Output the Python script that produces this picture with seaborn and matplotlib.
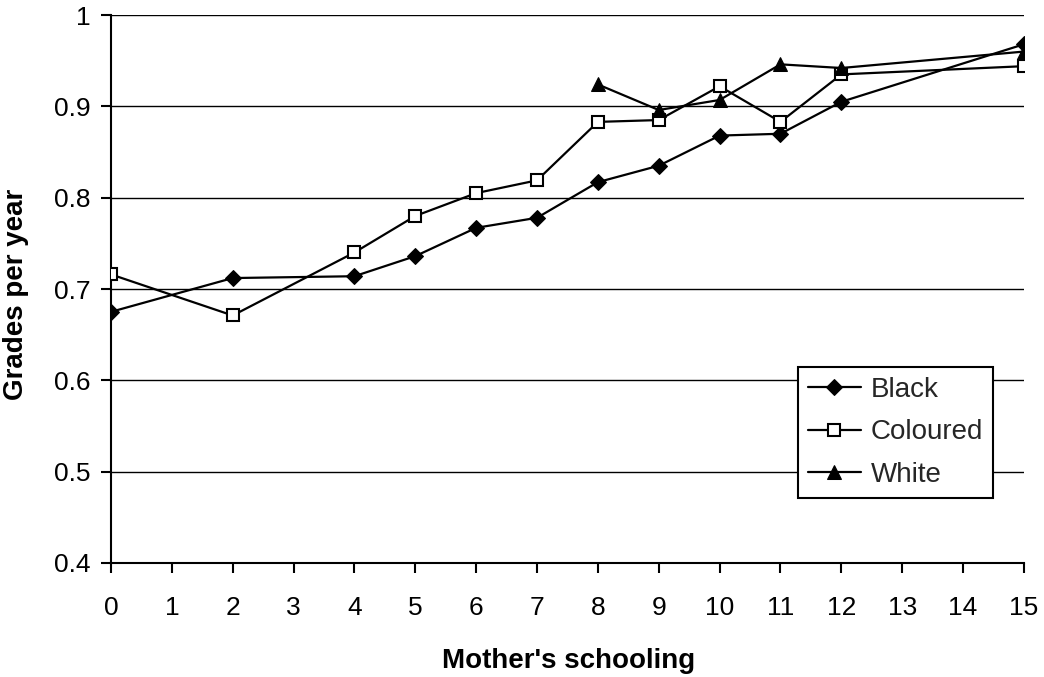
import matplotlib
matplotlib.use("Agg")
import matplotlib.pyplot as plt
import seaborn as sns
import pandas as pd

# Mother's years of schooling and grade progression per year, by population group
schooling_black = [0, 2, 4, 5, 6, 7, 8, 9, 10, 11, 12, 15]
grades_black = [0.675, 0.712, 0.714, 0.736, 0.767, 0.778, 0.817, 0.835, 0.868, 0.870, 0.905, 0.968]

schooling_coloured = [0, 2, 4, 5, 6, 7, 8, 9, 10, 11, 12, 15]
grades_coloured = [0.716, 0.671, 0.740, 0.780, 0.805, 0.819, 0.883, 0.885, 0.922, 0.883, 0.935, 0.944]

schooling_white = [8, 9, 10, 11, 12, 15]
grades_white = [0.924, 0.896, 0.907, 0.946, 0.942, 0.960]

x_ticks = list(range(0, 16))
y_ticks = [0.4, 0.5, 0.6, 0.7, 0.8, 0.9, 1.0]
y_tick_labels = ["0.4", "0.5", "0.6", "0.7", "0.8", "0.9", "1"]

sns.set_theme(style="white")
plt.rcParams["font.family"] = ["Liberation Sans", "DejaVu Sans"]

fig = plt.figure(figsize=(10.44, 6.77), dpi=100)
ax = fig.add_axes([0.1063, 0.1684, 0.8745, 0.8094])

# horizontal gridlines
for yv in y_ticks[1:]:
    ax.axhline(yv, color="black", linewidth=1.0, zorder=1)

series = [
    ("Black", schooling_black, grades_black,
     dict(marker="D", markersize=8.5, markerfacecolor="black")),
    ("Coloured", schooling_coloured, grades_coloured,
     dict(marker="s", markersize=8, markerfacecolor="white", markeredgewidth=1.5)),
    ("White", schooling_white, grades_white,
     dict(marker="^", markersize=10.5, markerfacecolor="black")),
]
for name, xs, ys, style in series:
    df = pd.DataFrame({"schooling": xs, "grades": ys})
    sns.lineplot(data=df, x="schooling", y="grades", ax=ax, color="black",
                 linewidth=1.6, markeredgecolor="black", label=name, zorder=3, **style)

ax.set_xlim(0, 15)
ax.set_ylim(0.4, 1.0)
ax.set_xticks(x_ticks)
ax.set_xticklabels([str(t) for t in x_ticks], fontsize=19)
ax.set_yticks(y_ticks)
ax.set_yticklabels(y_tick_labels, fontsize=19)
ax.tick_params(axis="both", direction="out", length=7, width=1.5, color="black",
               bottom=True, left=True, labelcolor="black")
ax.tick_params(axis="x", pad=17)
ax.tick_params(axis="y", pad=8)

for side in ["top", "right"]:
    ax.spines[side].set_visible(False)
for side in ["left", "bottom"]:
    ax.spines[side].set_color("black")
    ax.spines[side].set_linewidth(1.5)

ax.set_xlabel("Mother's schooling", fontsize=20, fontweight="bold", color="black")
ax.set_ylabel("Grades per year", fontsize=20, fontweight="bold", color="black")
ax.xaxis.set_label_coords(0.501, -0.156)
ax.yaxis.set_label_coords(-0.090, 0.491)

leg = ax.legend(loc="upper right", bbox_to_anchor=(0.966, 0.358), fontsize=20,
                frameon=True, fancybox=False, shadow=False, framealpha=1,
                edgecolor="black", handlelength=1.9, handletextpad=0.36,
                borderpad=0.36, labelspacing=0.6, borderaxespad=0)
leg.get_frame().set_linewidth(1.5)
leg.set_zorder(5)

fig.savefig("out.png", dpi=100, facecolor="white")
